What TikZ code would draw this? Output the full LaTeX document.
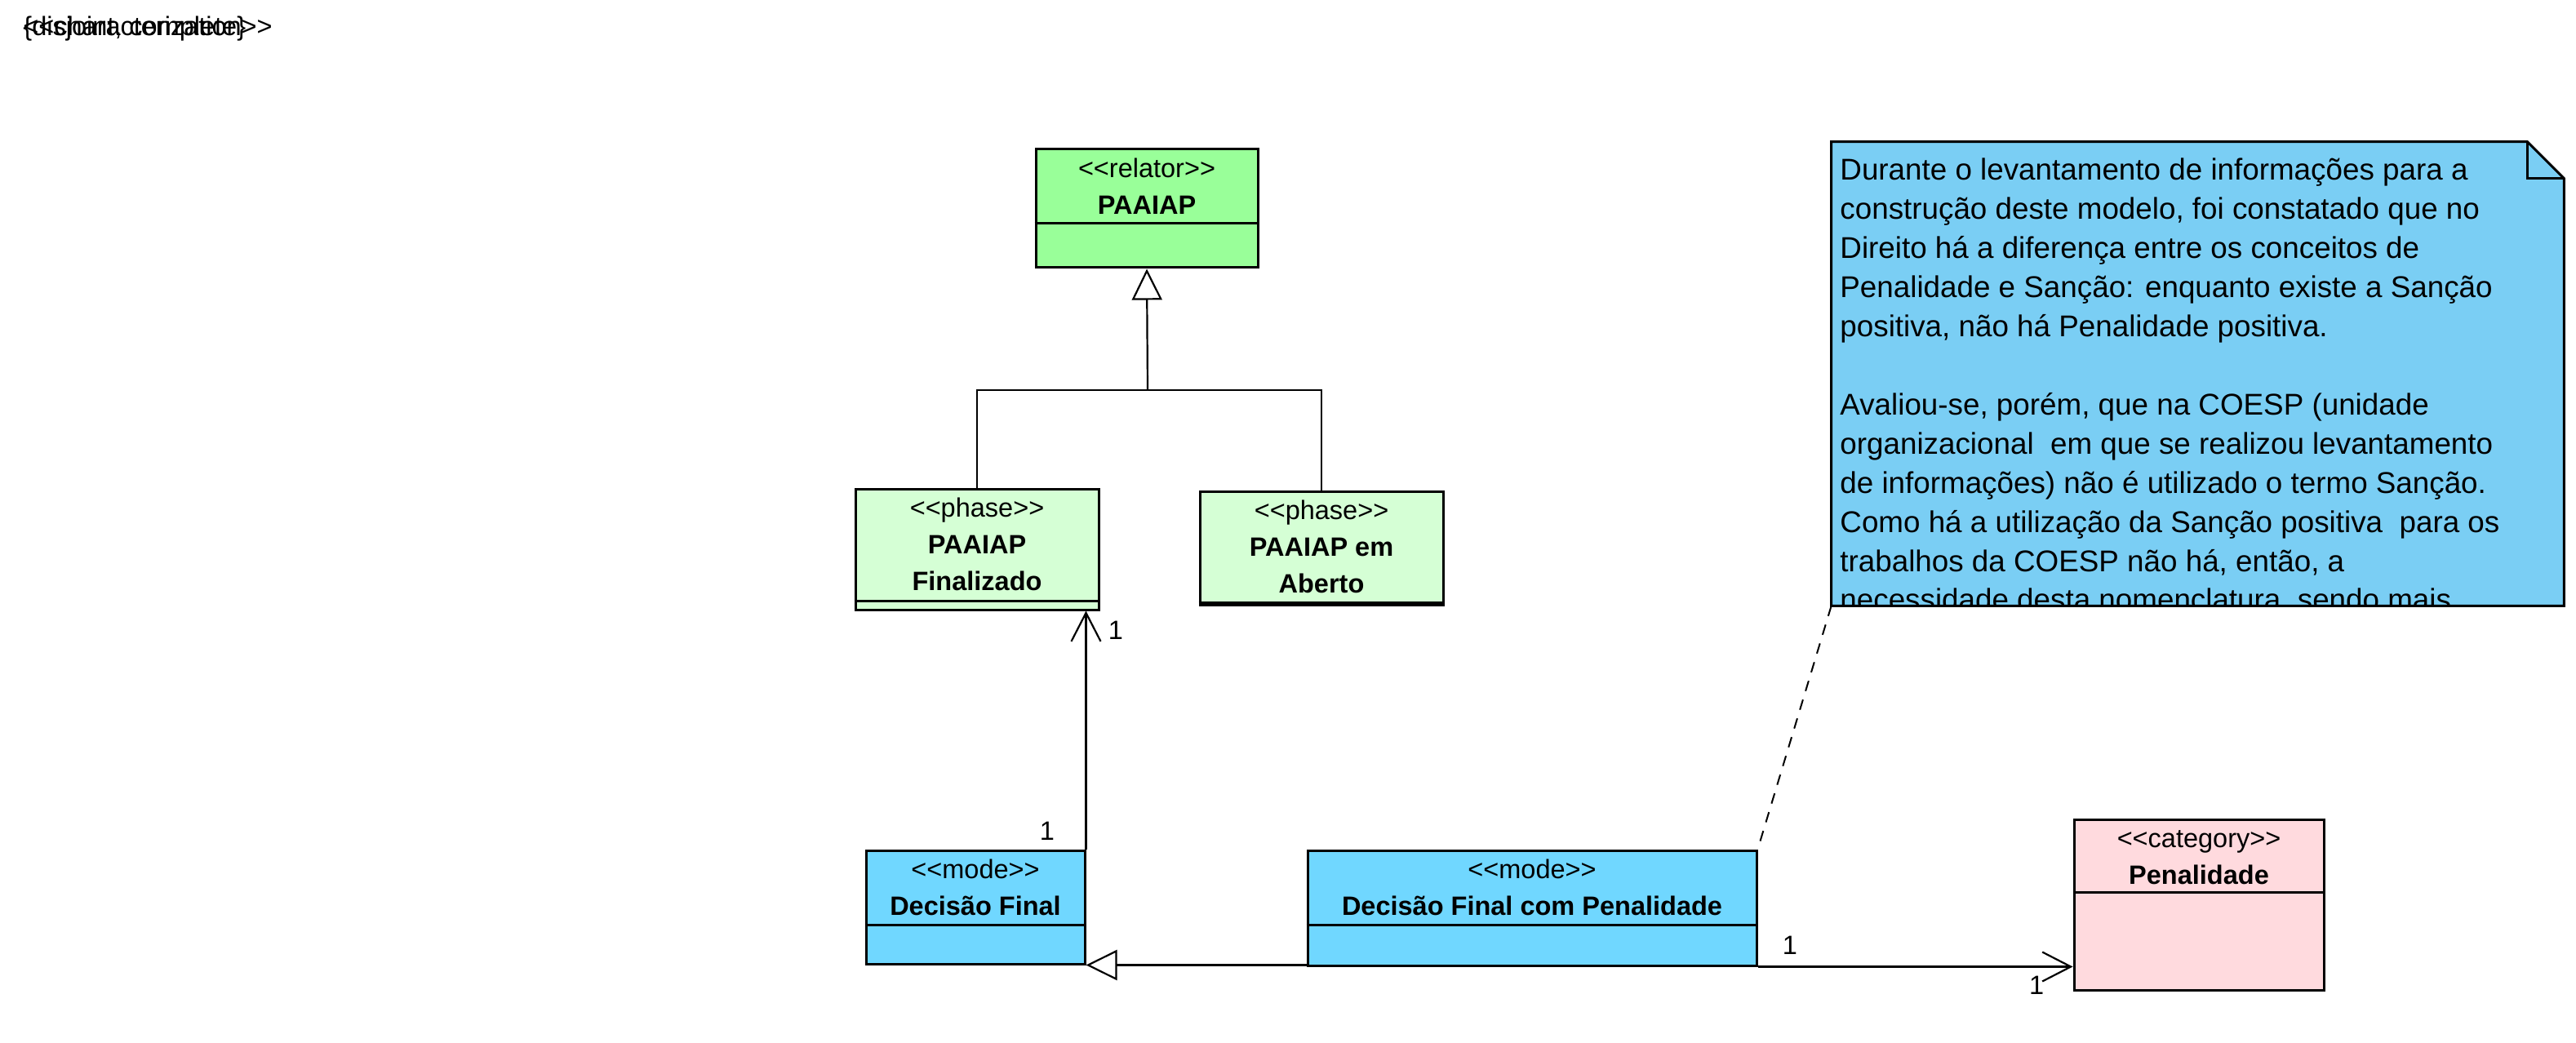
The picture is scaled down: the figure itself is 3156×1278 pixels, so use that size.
\documentclass[tikz,border=0pt]{standalone}
\usepackage{fontspec}
\setmainfont{Liberation Sans}
\usetikzlibrary{arrows.meta}
\usetikzlibrary{calc}

\definecolor{relatorgreen}{RGB}{153,255,153}
\definecolor{phasegreen}{RGB}{213,255,213}
\definecolor{modeblue}{RGB}{112,215,255}
\definecolor{noteblue}{RGB}{122,206,244}
\definecolor{categorypink}{RGB}{255,218,222}

\newcommand{\stopen}{<\kern0pt<}
\newcommand{\stclose}{>\kern0pt>}

\tikzset{
  classbox/.style={rectangle, draw, line width=1.5pt, inner sep=0pt},
  stereo/.style={anchor=base, inner sep=0pt, font=\fontsize{16.25pt}{22.5pt}\selectfont},
  classname/.style={anchor=base, inner sep=0pt, font=\fontsize{16.25pt}{22.5pt}\selectfont\bfseries},
  mult/.style={inner sep=0pt, font=\fontsize{16.25pt}{22.5pt}\selectfont},
  notetext/.style={anchor=base west, inner sep=0pt, font=\fontsize{18.4pt}{24pt}\selectfont},
  gen/.style={line width=1.1pt, -{Triangle[open, length=19pt, width=18.5pt]}},
  assoc/.style={line width=1.1pt, -{Straight Barb[length=17.5pt, width=18pt]}},
  notelink/.style={line width=1pt, dash pattern=on 6.5pt off 5.5pt},
}

\begin{document}
\begin{tikzpicture}[x=0.5pt, y=-0.5pt]
      \path[fill=white, use as bounding box] (0,0) rectangle (3156,1278);

      % labels of the generalization set, drawn on top of each other
      \node[mult, anchor=base west] (gsetlabel) at (28,44) {\{disjoint, complete\}};
      \node[mult, anchor=base west] (gsetstereo) at (28,44) {\stopen characterization\stclose};

      % classes
      \node[classbox, fill=relatorgreen, minimum width=136pt, minimum height=72.5pt] (rel) at (1405,255.5) {};
      \draw[line width=1.5pt] (rel.west |- 0,274) -- (rel.east |- 0,274);
      \node[stereo] (relst) at ($(rel.north)+(0,36)$) {\stopen relator\stclose};
      \node[classname] (relnm) at ($(rel.north)+(0,81)$) {PAAIAP};

      \node[classbox, fill=phasegreen, minimum width=149pt, minimum height=74pt] (ph1) at (1197,673) {};
      \draw[line width=1.5pt] (ph1.west |- 0,736) -- (ph1.east |- 0,736);
      \node[stereo] (ph1st) at ($(ph1.north)+(0,36)$) {\stopen phase\stclose};
      \node[classname] (ph1nm) at ($(ph1.north)+(0,81)$) {PAAIAP};
      \node[classname] (ph1nmb) at ($(ph1.north)+(0,126)$) {Finalizado};

      \node[classbox, fill=phasegreen, minimum width=149pt, minimum height=69.5pt] (ph2) at (1619,671.5) {};
      \draw[line width=1.5pt] (ph2.west |- 0,738) -- (ph2.east |- 0,738);
      \node[stereo] (ph2st) at ($(ph2.north)+(0,36)$) {\stopen phase\stclose};
      \node[classname] (ph2nm) at ($(ph2.north)+(0,81)$) {PAAIAP em};
      \node[classname] (ph2nmb) at ($(ph2.north)+(0,126)$) {Aberto};

      \node[classbox, fill=modeblue, minimum width=134pt, minimum height=69.5pt] (mode1) at (1195,1111.5) {};
      \draw[line width=1.5pt] (mode1.west |- 0,1133) -- (mode1.east |- 0,1133);
      \node[stereo] (mode1st) at ($(mode1.north)+(0,36)$) {\stopen mode\stclose};
      \node[classname] (mode1nm) at ($(mode1.north)+(0,81)$) {Decisão Final};

      \node[classbox, fill=modeblue, minimum width=275pt, minimum height=70.5pt] (mode2) at (1877,1112.5) {};
      \draw[line width=1.5pt] (mode2.west |- 0,1133) -- (mode2.east |- 0,1133);
      \node[stereo] (mode2st) at ($(mode2.north)+(0,36)$) {\stopen mode\stclose};
      \node[classname] (mode2nm) at ($(mode2.north)+(0,81)$) {Decisão Final com Penalidade};

      \node[classbox, fill=categorypink, minimum width=153pt, minimum height=104.5pt] (cat) at (2694,1108.5) {};
      \draw[line width=1.5pt] (cat.west |- 0,1093) -- (cat.east |- 0,1093);
      \node[stereo] (catst) at ($(cat.north)+(0,36)$) {\stopen category\stclose};
      \node[classname] (catnm) at ($(cat.north)+(0,81)$) {Penalidade};

      % note
      \node[minimum width=448.5pt, minimum height=284pt, inner sep=0pt] (note) at (2692.5,458) {};
      \fill[noteblue] (note.north west) -- ($(note.north east)+(-45,0)$) -- ($(note.north east)+(0,45)$)
        -- (note.south east) -- (note.south west) -- cycle;
      \begin{scope}
        \clip (note.north west) rectangle (note.south east);
        \foreach \notetxt [count=\i] in {{Durante o levantamento de informações para a},
          {construção deste modelo, foi constatado que no},
          {Direito há a diferença entre os conceitos de},
          {Penalidade e Sanção: enquanto existe a Sanção},
          {positiva, não há Penalidade positiva.},
          {},
          {Avaliou-se, porém, que na COESP (unidade},
          {organizacional~ em que se realizou levantamento},
          {de informações) não é utilizado o termo Sanção.},
          {Como há a utilização da Sanção positiva~ para os},
          {trabalhos da COESP não há, então, a},
          {necessidade desta nomenclatura, sendo mais}}
          \node[notetext] (noteline\i) at (2254,{221+47.9*(\i-1)}) {\notetxt};
      \end{scope}
      \draw[line width=1.5pt] (note.north west) -- ($(note.north east)+(-45,0)$) -- ($(note.north east)+(0,45)$)
        -- (note.south east) -- (note.south west) -- cycle;
      \draw[line width=1.5pt] ($(note.north east)+(-45,0)$) |- ($(note.north east)+(0,45)$);

      % connectors
      \coordinate (genjoin) at (1406,478);
      \draw[line width=1.1pt] (ph1.north) |- (genjoin) -| (ph2.north);
      \draw[gen] (genjoin) -- (rel.south);
      \draw[gen] (mode2.south west |- mode1.south east) -- (mode1.south east);
      \draw[assoc] (mode1.north east) -- (mode1.north east |- ph1.south);
      \draw[assoc] (mode2.south east) -- (mode2.south east -| cat.west);
      \draw[notelink] (note.south west) -- (mode2.north east);

      \node[mult] (multA) at (1367,772) {1};
      \node[mult] (multB) at (1283,1018) {1};
      \node[mult] (multC) at (2193,1158) {1};
      \node[mult] (multD) at (2495,1207) {1};
\end{tikzpicture}
\end{document}
